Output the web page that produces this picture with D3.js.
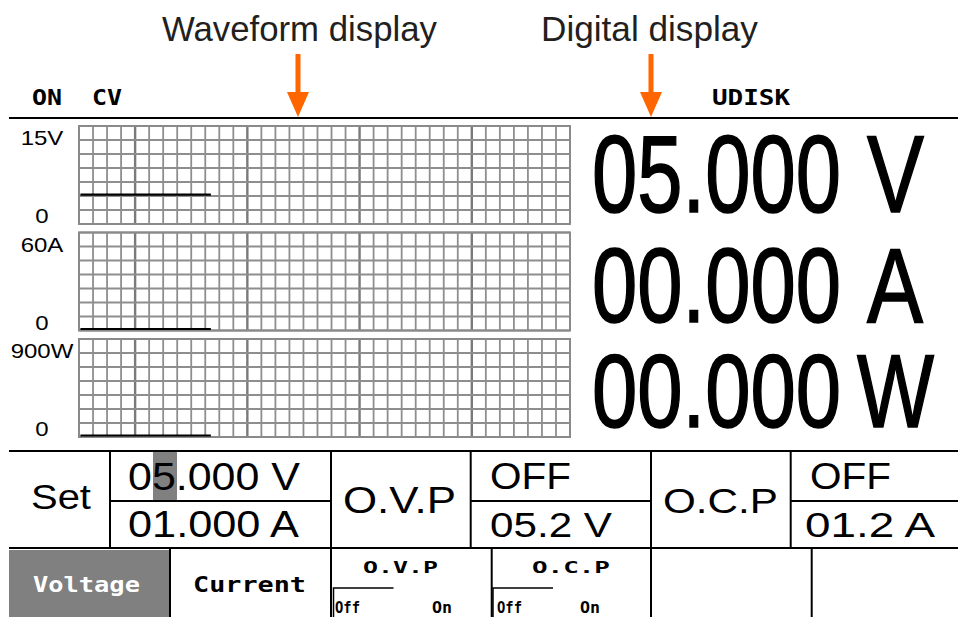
<!DOCTYPE html>
<html>
<head>
<meta charset="utf-8">
<script src="https://cdn.jsdelivr.net/npm/d3@7"></script>
<style>
    body { margin: 0; background: #fff; }
    svg { display: block; }
</style>
</head>
<body>
<div id="screen"></div>
<script>
// channels shown in the waveform area
var channelNames = ['Voltage', 'Current', 'Power'];
var channelUnits = ['V', 'A', 'W'];
var fullScale = [15, 60, 900];
var scaleLabels = ['15V', '60A', '900W'];

// digital readout values
var readings = [5.000, 0.000, 0.000];

// trace samples (time in grid divisions)
var traceTime = [0.1, 1, 2, 3, 4, 5, 6, 7, 8, 9.4];
var voltageTrace = [4.5, 4.5, 4.5, 4.5, 4.5, 4.5, 4.5, 4.5, 4.5, 4.5];
var currentTrace = [0, 0, 0, 0, 0, 0, 0, 0, 0, 0];
var powerTrace = [0, 0, 0, 0, 0, 0, 0, 0, 0, 0];

// status bar
var statusLeft = ['ON', 'CV'];
var statusRight = ['UDISK'];

// set / protection table
var setValues = ['05.000 V', '01.000 A'];
var ovpState = 'OFF', ovpLimit = '05.2 V';
var ocpState = 'OFF', ocpLimit = '01.2 A';

// soft keys
var softKeys = ['Voltage', 'Current', 'O.V.P', 'O.C.P', '', ''];
var toggleLabels = ['Off', 'On'];

var W = 958, H = 617;
var svg = d3.select('#screen').append('svg').attr('width', W).attr('height', H);

var sans = '"Liberation Sans", Arial, sans-serif';
var mono = '"DejaVu Sans Mono", monospace';
var orange = '#ff6600';

// text helper: squeezed horizontally to a width (len) or by a factor (opts.sx)
function txt(g, s, x, y, size, len, opts){
    opts = opts || {};
    var holder = g.append('g');
    var t = holder.append('text')
        .attr('x', 0).attr('y', 0)
        .attr('font-family', opts.family || sans)
        .attr('font-size', size)
        .attr('font-weight', opts.weight || 'normal')
        .attr('fill', opts.fill || '#000')
        .attr('text-anchor', opts.anchor || 'start')
        .text(s);
    if(opts.stroke){
        t.attr('stroke', opts.fill || '#000').attr('stroke-width', opts.stroke);
    }
    var sx = opts.sx || 1;
    if(len){
        sx = len / t.node().getComputedTextLength();
    }
    holder.attr('transform', 'translate(' + x + ',' + y + ') scale(' + sx + ',1)');
    return t;
}

function hline(g, x1, x2, y, w){
    g.append('line').attr('x1', x1).attr('x2', x2).attr('y1', y).attr('y2', y)
        .attr('stroke', '#000').attr('stroke-width', w || 2);
}
function vline(g, x, y1, y2, w){
    g.append('line').attr('x1', x).attr('x2', x).attr('y1', y1).attr('y2', y2)
        .attr('stroke', '#000').attr('stroke-width', w || 2);
}

// annotations on top
var notes = svg.append('g');
txt(notes, 'Waveform display', 162, 41, 35, 275, {fill: '#231f20'});
txt(notes, 'Digital display', 541, 41, 35, 217, {fill: '#231f20'});

function arrow(x){
    notes.append('rect').attr('x', x - 2.5).attr('y', 54).attr('width', 5).attr('height', 40).attr('fill', orange);
    notes.append('path').attr('d', 'M' + (x - 11) + ',92 L' + (x + 11) + ',92 L' + x + ',117 Z').attr('fill', orange);
}
arrow(298);
arrow(651);

// status bar
var statusBar = svg.append('g');
txt(statusBar, statusLeft[0], 32, 105, 21, 30, {family: mono, weight: 'bold'});
txt(statusBar, statusLeft[1], 92, 105, 21, 30, {family: mono, weight: 'bold'});
txt(statusBar, statusRight[0], 712, 105, 21, 78, {family: mono, weight: 'bold'});
hline(statusBar, 9, W, 118, 2);

// waveform panels
var x = d3.scaleLinear().domain([0, 35]).range([79, 570]);
var panelTops = [126, 232.5, 339];
var panelH = 98;
var traces = [voltageTrace, currentTrace, powerTrace];

channelNames.forEach(function(name, i){
    var top = panelTops[i];
    var y = d3.scaleLinear().domain([0, fullScale[i]]).range([top + panelH, top]);
    var rows = d3.scaleLinear().domain([0, 7]).range([top, top + panelH]);
    var g = svg.append('g').attr('class', 'panel-' + name);

    // grid
    g.selectAll('line.v').data(d3.range(0, 36)).enter().append('line')
        .attr('x1', function(d){ return x(d); }).attr('x2', function(d){ return x(d); })
        .attr('y1', top).attr('y2', top + panelH)
        .attr('stroke', function(d){ return (d % 8 == 4) ? '#7a7a7a' : '#8e8e8e'; })
        .attr('stroke-width', function(d){ return (d % 8 == 4) ? 2.4 : 1.8; });
    g.selectAll('line.h').data(d3.range(0, 8)).enter().append('line')
        .attr('x1', x(0)).attr('x2', x(35))
        .attr('y1', function(d){ return rows(d); }).attr('y2', function(d){ return rows(d); })
        .attr('stroke', '#8e8e8e').attr('stroke-width', 1.8);
    g.append('rect').attr('x', x(0)).attr('y', top).attr('width', x(35) - x(0)).attr('height', panelH)
        .attr('fill', 'none').attr('stroke', '#8a8a8a').attr('stroke-width', 2);

    // trace
    var line = d3.line()
        .x(function(d, j){ return x(traceTime[j]); })
        .y(function(d){ return Math.min(y(d), top + panelH - 1.5); });
    g.append('path').datum(traces[i]).attr('d', line)
        .attr('fill', 'none').attr('stroke', '#000').attr('stroke-width', 2.2);

    // scale labels
    txt(g, scaleLabels[i], 42, y(fullScale[i]) + 19, 20, null, {anchor: 'middle', sx: 1.2});
    txt(g, '0', 42, y(0) - 1, 20, null, {anchor: 'middle', sx: 1.2});
});

// digital readout
var fmt = d3.format('06.3f');
var readRows = [
    {base: 212, size: 110, ux: 867, ulen: 57},
    {base: 322, size: 105, ux: 867, ulen: 56},
    {base: 427, size: 104, ux: 857, ulen: 77}
];
var digital = svg.append('g');
readings.forEach(function(v, i){
    var r = readRows[i];
    txt(digital, fmt(v), 592, r.base, r.size, 249, {stroke: 1.6});
    txt(digital, channelUnits[i], r.ux, r.base, r.size, r.ulen, {stroke: 1.6});
});

// set / protection table
var table = svg.append('g');
table.append('rect').attr('x', 153).attr('y', 452).attr('width', 24).attr('height', 48).attr('fill', '#808080');
hline(table, 9, W, 451);
hline(table, 9, W, 548);
[110, 331, 470.7, 651, 790.7].forEach(function(xx){ vline(table, xx, 451, 548); });
hline(table, 110, 331, 501);
hline(table, 470.7, 651, 501);
hline(table, 790.7, W, 501);

txt(table, 'Set', 31, 509, 35, 60);
txt(table, setValues[0], 128, 490, 39, 172);
txt(table, setValues[1], 128, 537, 36, 171);
txt(table, 'O.V.P', 343, 513, 36, 113);
txt(table, ovpState, 490, 489, 37, 81);
txt(table, ovpLimit, 490, 537, 36, 122);
txt(table, 'O.C.P', 663, 513, 36, 115);
txt(table, ocpState, 810, 489, 37, 81);
txt(table, ocpLimit, 805, 537, 36, 130);

// soft keys
var keys = svg.append('g');
keys.append('rect').attr('x', 9).attr('y', 550).attr('width', 160).attr('height', H - 550).attr('fill', '#808080');
[170, 331, 491.7, 651, 811.7].forEach(function(xx){ vline(keys, xx, 548, H); });

txt(keys, softKeys[0], 33, 592, 21, 107, {family: mono, weight: 'bold', fill: '#fff'});
txt(keys, softKeys[1], 193, 592, 21, 113, {family: mono, weight: 'bold'});
txt(keys, softKeys[2], 363, 573, 15, 75, {family: mono, weight: 'bold'});
txt(keys, softKeys[3], 532, 573, 15, 78, {family: mono, weight: 'bold'});

// off/on toggles under the protection keys
[[335, 432, 333.5], [497, 580, 493]].forEach(function(p){
    txt(keys, toggleLabels[0], p[0], 613, 15, 25, {family: mono, weight: 'bold'});
    txt(keys, toggleLabels[1], p[1], 613, 15, 20, {family: mono, weight: 'bold'});
    keys.append('path').attr('d', 'M' + p[2] + ',' + H + ' V588 H' + (p[2] + 60))
        .attr('fill', 'none').attr('stroke', '#000').attr('stroke-width', 1.5);
});
</script>
</body>
</html>
